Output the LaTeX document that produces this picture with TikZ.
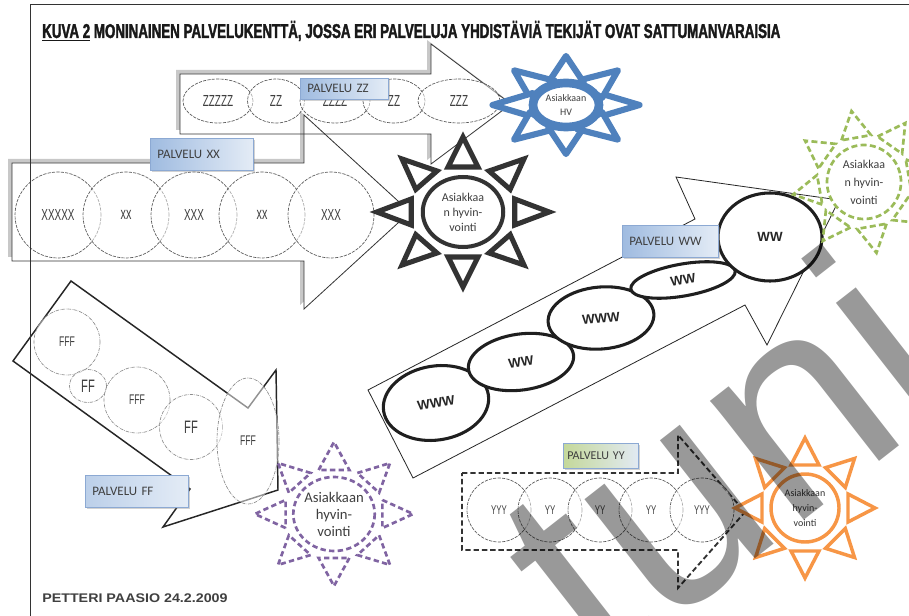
\documentclass[tikz,border=0pt]{standalone}
\usepackage{graphicx}
\usepackage{fontspec}
\setmainfont{Carlito}
\newfontfamily\condfont[FakeStretch=0.62]{Liberation Sans}
\newfontfamily\headfont[FakeStretch=0.58, FakeBold=1.6]{Liberation Sans Bold}
\newfontfamily\arialfont{Liberation Sans}
\usetikzlibrary{shapes.geometric,shadows}
\newdimen\pxu \pxu=0.75pt
\definecolor{inkgray}{HTML}{3F3F3F}
\definecolor{shadegray}{HTML}{C8C8C8}
\definecolor{sunblue}{HTML}{4F81BD}
\definecolor{sungreen}{HTML}{9BBB59}
\definecolor{sunpurple}{HTML}{8064A2}
\definecolor{sunorange}{HTML}{F79646}
\definecolor{sundark}{HTML}{333333}
\definecolor{boxedge}{HTML}{8CA9D3}
\definecolor{boxblueA}{HTML}{9FBBE0}
\definecolor{boxblueB}{HTML}{E4ECF6}
\definecolor{boxgreenA}{HTML}{C4D89A}
\definecolor{boxgreenB}{HTML}{E2EAF3}

% eight triangular rays around the current origin
\newcommand{\sunrays}[4]{%
  \foreach \a in {0,45,...,315}
    \draw[#1, rotate=\a] (#2,-#4) -- (#3,0) -- (#2,#4) -- cycle;}

% outlines of the two grey-shadowed block arrows
\newcommand{\zzoutline}{(180,74) -- (431,74) -- (431,44) -- (511,104) -- (431,164) -- (431,134) -- (180,134) -- cycle}
\newcommand{\xxoutline}{(12,163) -- (304,163) -- (304,115) -- (410,212) -- (304,309) -- (304,261) -- (12,261) -- cycle}

\tikzset{
  frameline/.style={draw=black!80, line width=0.75pt},
  blockshadow/.style={fill=shadegray, draw=none},
  blockbody/.style={fill=white, draw=none},
  blockedge/.style={draw=black!80, line width=0.6pt},
  servicecircle/.style={ellipse, inner sep=0pt, draw=black!65, line width=0.5pt,
    dash pattern=on 2.4pt off 0.9pt, fill=white, fill opacity=0.5, text opacity=1,
    text=inkgray, font=\condfont\fontsize{12}{12}\selectfont},
  faintcircle/.style={servicecircle, draw=black!45,
    dash pattern=on 2.5pt off 0.8pt on 0.4pt off 0.8pt},
  wwellipse/.style={ellipse, inner sep=0pt, draw=black!88, line width=2.3pt, fill=white,
    text=black!85, font=\arialfont\bfseries\fontsize{10}{10}\selectfont},
  palvelu/.style={draw=boxedge, line width=0.6pt, left color=boxblueA, right color=boxblueB,
    text=inkgray, font=\fontsize{9.7}{10}\selectfont, anchor=north west, inner ysep=0pt,
    inner xsep=7\pxu, align=left,
    drop shadow={shadow xshift=1pt, shadow yshift=-1pt, opacity=0.35}},
  suntext/.style={align=center, text=inkgray, font=\fontsize{9}{11.25}\selectfont, inner sep=0pt},
  darkray/.style={draw=sundark, line width=3.8pt, fill=white},
  blueray/.style={draw=sunblue, line width=4.6pt, fill=white, line join=round},
  greenray/.style={draw=sungreen, line width=2pt, dash pattern=on 4.5pt off 2.5pt},
  purpleray/.style={draw=sunpurple, line width=2pt, dash pattern=on 4pt off 2.5pt},
  orangeray/.style={draw=sunorange, line width=2.6pt, fill=white},
  wwedge/.style={draw=black!85, line width=0.6pt},
  ffedge/.style={draw=black!85, line width=1.1pt},
  yyedge/.style={draw=black!80, line width=1.4pt, dash pattern=on 4pt off 2.2pt},
}

\begin{document}
\begin{tikzpicture}[x=0.75pt, y=-0.75pt]
\useasboundingbox (0,0) rectangle (909,616);
\fill[white] (0,0) rectangle (909,616);

% ---- block arrows ZZ and XX with their grey shadows
\path[blockshadow, shift={(-4,-4)}] \zzoutline;
\path[blockbody] \zzoutline;
\path[blockshadow, shift={(-4,-4)}] \xxoutline;
\path[blockbody] \xxoutline;
\draw[blockedge] \zzoutline;
\draw[blockedge] \xxoutline;

% ---- service XX
\node[servicecircle, minimum width=86\pxu, minimum height=86\pxu] (x1) at (58,215) {XXXXX};
\node[servicecircle, minimum width=86\pxu, minimum height=86\pxu, font=\condfont\fontsize{13}{13}\selectfont] (x2) at (126,215) {xx};
\node[servicecircle, minimum width=86\pxu, minimum height=86\pxu] (x3) at (194,215) {XXX};
\node[servicecircle, minimum width=86\pxu, minimum height=86\pxu, font=\condfont\fontsize{13}{13}\selectfont] (x4) at (262,215) {xx};
\node[servicecircle, minimum width=86\pxu, minimum height=86\pxu] (x5) at (331,215) {XXX};

% ---- service ZZ
\node[servicecircle, minimum width=70\pxu, minimum height=44\pxu] (z1) at (218,101) {ZZZZZ};
\node[servicecircle, minimum width=57\pxu, minimum height=44\pxu] (z2) at (276,101) {ZZ};
\node[servicecircle, minimum width=70\pxu, minimum height=44\pxu] (z3) at (335,101) {ZZZZ};
\node[servicecircle, minimum width=62\pxu, minimum height=44\pxu] (z4) at (394,101) {ZZ};
\node[servicecircle, minimum width=82\pxu, minimum height=44\pxu] (z5) at (459,101) {ZZZ};

\node[palvelu, text width=74\pxu, minimum height=21\pxu] (pzz) at (300,78) {PALVELU ZZ};
\node[palvelu, text width=89\pxu, minimum height=32\pxu] (pxx) at (150,138) {PALVELU XX};

% ---- blue sun
\begin{scope}[shift={(566,105)}, xscale=1.5]
  \sunrays{blueray}{22}{49}{12}
  \draw[draw=sunblue, line width=6.5pt, fill=white] (0,0) circle (22);
\end{scope}
\node[suntext, font=\fontsize{7.5}{9.8}\selectfont] (hvblue) at (566,105) {Asiakkaan\\HV};

% ---- dark sun
\begin{scope}[shift={(463,212)}, xscale=1.15]
  \sunrays{darkray}{45}{75}{13}
  \draw[draw=sundark, line width=3pt, fill=white] (0,0) circle (35);
\end{scope}
\node[suntext] (hvdark) at (463,212) {Asiakkaa\\n hyvin-\\vointi};

% ---- service WW
\draw[wwedge] (368,390) -- (695,219) -- (676,177) -- (839,200) -- (767,345) -- (745,305) -- (413,478) -- cycle;
\node[wwellipse, rotate=9, minimum width=106\pxu, minimum height=74\pxu] (w1) at (436,403) {WWW};
\node[wwellipse, rotate=8, minimum width=106\pxu, minimum height=56\pxu] (w2) at (521,362) {WW};
\node[wwellipse, rotate=5, minimum width=106\pxu, minimum height=62\pxu] (w3) at (601,318) {WWW};
\node[wwellipse, rotate=10, minimum width=106\pxu, minimum height=32\pxu] (w4) at (683,280) {WW};
\node[wwellipse, minimum width=104\pxu, minimum height=88\pxu] (w5) at (770,237) {WW};
\node[palvelu, text width=82\pxu, minimum height=32\pxu] (pww) at (622,225) {PALVELU WW};

% ---- green sun
\begin{scope}[shift={(864,182)}, rotate=10]
  \sunrays{greenray}{45}{72}{15}
  \draw[greenray, fill=white] (0,0) circle (37);
\end{scope}
\node[suntext, font=\fontsize{9}{13.5}\selectfont] (hvgreen) at (864,182) {Asiakkaa\\n hyvin-\\vointi};

% ---- service FF
\draw[ffedge] (71,281) -- (248,408) -- (276,370) -- (278,490) -- (163,527) -- (190,489) -- (13,361) -- cycle;
\node[faintcircle, minimum width=66\pxu, minimum height=66\pxu, font=\condfont\fontsize{10.5}{11}\selectfont] (f1) at (67,342) {FFF};
\node[faintcircle, minimum width=37\pxu, minimum height=33\pxu, font=\condfont\fontsize{13.5}{14}\selectfont] (f2) at (88,386) {FF};
\node[faintcircle, minimum width=66\pxu, minimum height=66\pxu, font=\condfont\fontsize{10.5}{11}\selectfont] (f3) at (137,400) {FFF};
\node[faintcircle, minimum width=63\pxu, minimum height=65\pxu, font=\condfont\fontsize{13.5}{14}\selectfont] (f4) at (191,427) {FF};
\node[faintcircle, minimum width=62\pxu, minimum height=126\pxu, font=\condfont\fontsize{10.5}{11}\selectfont] (f5) at (248,441) {FFF};
\node[palvelu, text width=89\pxu, minimum height=32\pxu, left color=boxblueA!70!white] (pff) at (85,475) {PALVELU FF};

% ---- purple sun
\begin{scope}[shift={(334,514)}, xscale=1.1]
  \sunrays{purpleray}{44}{72}{14}
  \draw[purpleray, fill=white] (0,0) circle (37);
\end{scope}
\node[suntext, font=\fontsize{11}{12.75}\selectfont] (hvpurple) at (334,514) {Asiakkaan\\hyvin-\\vointi};

% ---- service YY
\draw[yyedge] (462,473) -- (678,473) -- (678,435) -- (745,512) -- (678,588) -- (678,550) -- (462,550) -- cycle;
\node[servicecircle, minimum size=64\pxu, font=\condfont\fontsize{9.5}{10}\selectfont] (y1) at (499,510) {YYY};
\node[servicecircle, minimum size=64\pxu, font=\condfont\fontsize{9.5}{10}\selectfont] (y2) at (550,510) {YY};
\node[servicecircle, minimum size=64\pxu, font=\condfont\fontsize{9.5}{10}\selectfont] (y3) at (600,510) {YY};
\node[servicecircle, minimum size=64\pxu, font=\condfont\fontsize{9.5}{10}\selectfont] (y4) at (651,510) {YY};
\node[servicecircle, minimum size=64\pxu, font=\condfont\fontsize{9.5}{10}\selectfont] (y5) at (702,510) {YYY};
\node[palvelu, text width=67\pxu, inner xsep=4\pxu, minimum height=25\pxu, font=\fontsize{9}{10}\selectfont,
  left color=boxgreenA, right color=boxgreenB] (pyy) at (563,443) {PALVELU YY};

% ---- orange sun
\begin{scope}[shift={(805,508)}]
  \sunrays{orangeray}{43}{70}{14}
  \draw[draw=sunorange, line width=2.6pt, fill=white] (0,0) circle (34);
\end{scope}
\node[suntext, font=\fontsize{7.5}{11.25}\selectfont, text=black!80] (hvorange) at (805,508) {Asiakkaan\\hyvin-\\vointi};

% ---- heading and signature
\node[anchor=west, inner sep=0pt, text=black!90] (title) at (42,31)
  {\resizebox{553.5pt}{\height}{\headfont\fontsize{15}{15}\selectfont\underline{KUVA 2} MONINAINEN PALVELUKENTTÄ, JOSSA ERI PALVELUJA YHDISTÄVIÄ TEKIJÄT OVAT SATTUMANVARAISIA}};
\node[anchor=west, inner sep=0pt, text=black!75] (sig) at (42,598)
  {\resizebox{139pt}{\height}{\arialfont\bfseries\fontsize{9.4}{10}\selectfont PETTERI PAASIO 24.2.2009}};

% ---- page frame
\draw[frameline] (909,5) -- (30,5) -- (30,616);

% ---- watermark
\node[rotate=38, anchor=base west, inner sep=0pt, text=black, text opacity=0.4,
  font=\arialfont\fontsize{215}{215}\selectfont] (wm) at (600,680) {tuni};
\end{tikzpicture}
\end{document}
